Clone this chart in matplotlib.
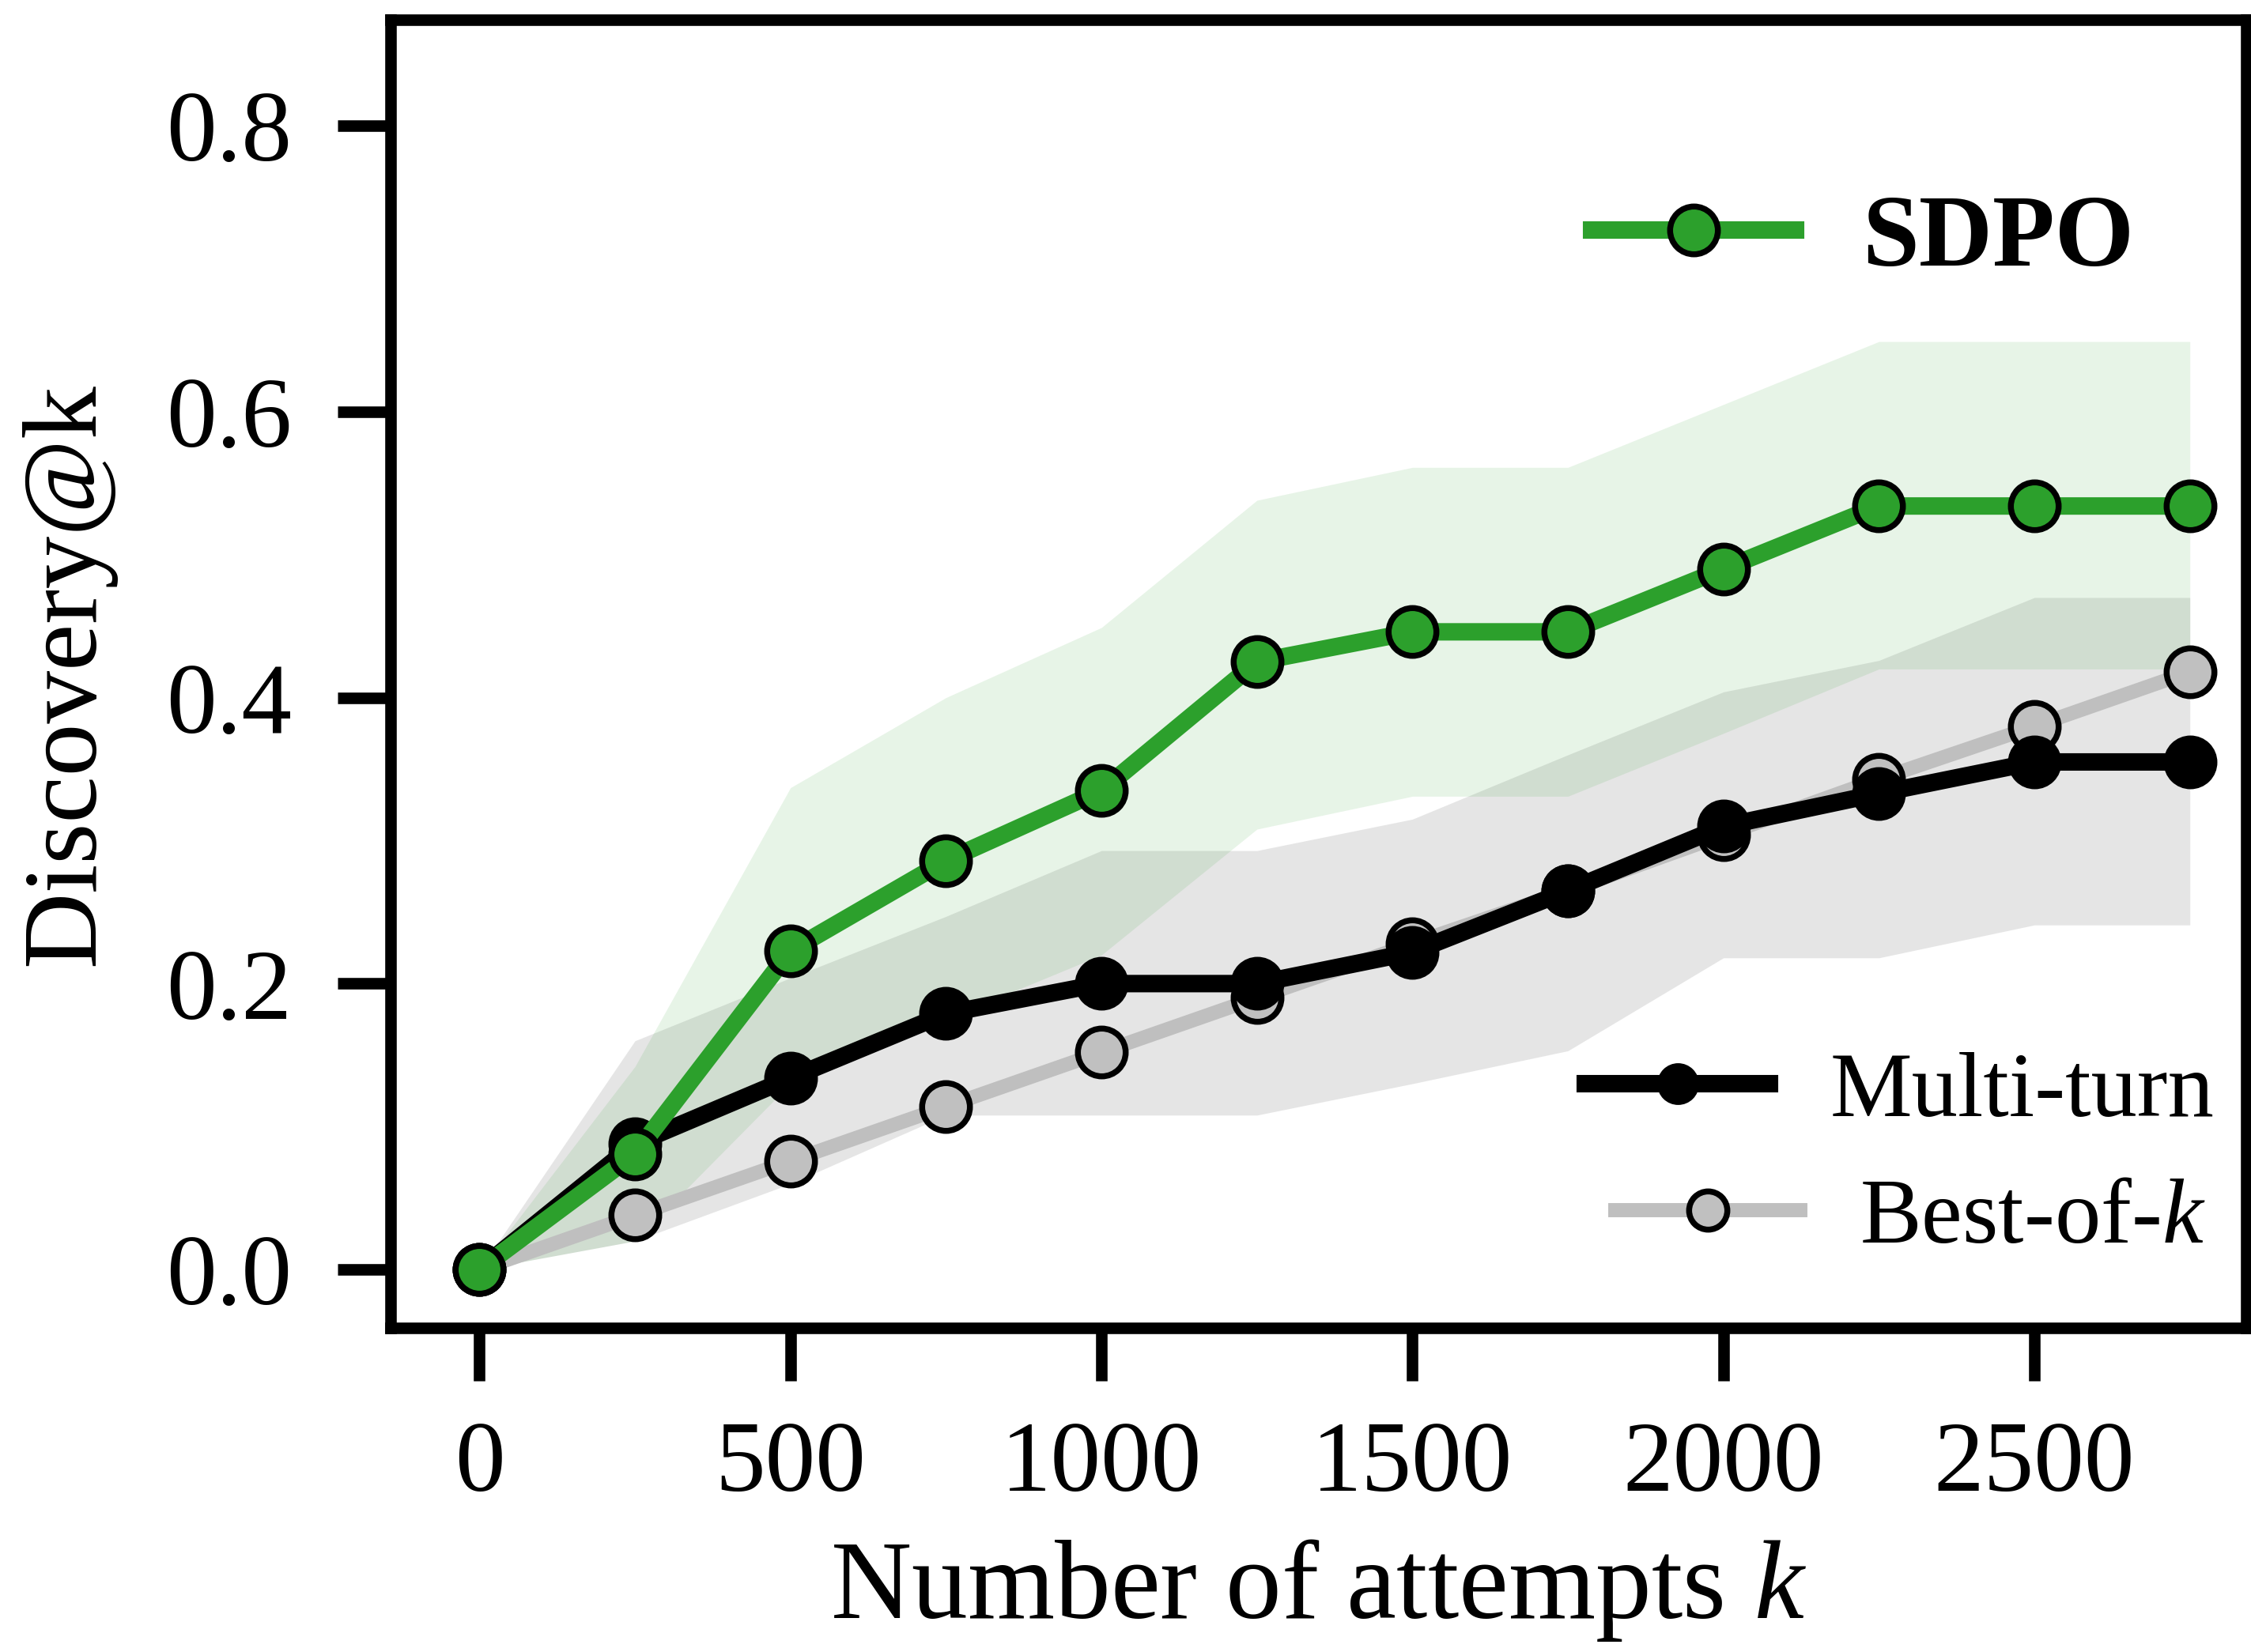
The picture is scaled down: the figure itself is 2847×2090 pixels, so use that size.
import matplotlib
matplotlib.use("Agg")
import matplotlib.pyplot as plt

plt.rcParams['font.family'] = ['Liberation Serif', 'DejaVu Serif']
plt.rcParams['mathtext.fontset'] = 'custom'
plt.rcParams['mathtext.rm'] = 'Liberation Serif'
plt.rcParams['mathtext.it'] = 'Liberation Serif:italic'

# attempts k
k = [0, 250, 500, 750, 1000, 1250, 1500, 1750, 2000, 2250, 2500, 2750]

sdpo = [0.0, 0.081, 0.223, 0.286, 0.335, 0.425, 0.446, 0.446, 0.490, 0.534, 0.534, 0.534]
sdpo_lo = [0.0, 0.02, 0.13, 0.175, 0.22, 0.308, 0.331, 0.331, 0.375, 0.42, 0.42, 0.42]
sdpo_hi = [0.0, 0.142, 0.337, 0.40, 0.449, 0.538, 0.561, 0.561, 0.605, 0.649, 0.649, 0.649]

multi = [0.0, 0.088, 0.134, 0.179, 0.200, 0.200, 0.222, 0.265, 0.310, 0.333, 0.355, 0.355]
multi_lo = [0.0, 0.02, 0.06, 0.108, 0.108, 0.108, 0.13, 0.153, 0.218, 0.218, 0.241, 0.241]
multi_hi = [0.0, 0.16, 0.204, 0.247, 0.293, 0.293, 0.315, 0.36, 0.404, 0.426, 0.47, 0.47]

bok = [0.0, 0.038, 0.076, 0.114, 0.152, 0.190, 0.228, 0.265, 0.304, 0.343, 0.380, 0.418]

green = '#2ca02c'
silver = '#bfbfbf'

fig = plt.figure(figsize=(2847 / 300, 2090 / 300), dpi=300)
ax = fig.add_axes([0.1735, 0.196, 0.8245, 0.792])

ax.fill_between(k, multi_lo, multi_hi, color='gray', alpha=0.2, lw=0, zorder=1)
ax.fill_between(k, sdpo_lo, sdpo_hi, color=green, alpha=0.11, lw=0, zorder=1)

ms, mew = 14.5, 1.8
l_bok, = ax.plot(k, bok, color=silver, lw=4.3, marker='o', ms=ms, mfc='#c0c0c0',
                 mec='black', mew=mew, zorder=3, label='Best-of-$k$')
l_multi, = ax.plot(k, multi, color='black', lw=5.3, marker='o', ms=ms, mfc='black',
                   mec='black', mew=mew, zorder=4, label='Multi-turn')
l_sdpo, = ax.plot(k, sdpo, color=green, lw=5.3, marker='o', ms=ms, mfc=green,
                  mec='black', mew=mew, zorder=5, label='SDPO')

ax.set_xlim(-143, 2841)
ax.set_ylim(-0.041, 0.874)
ax.set_xticks([0, 500, 1000, 1500, 2000, 2500])
ax.set_yticks([0.0, 0.2, 0.4, 0.6, 0.8])
ax.set_yticklabels(['0.0', '0.2', '0.4', '0.6', '0.8'])

for s in ax.spines.values():
    s.set_linewidth(3.5)
ax.tick_params(axis='both', length=16, width=3.5, labelsize=30.5)
ax.tick_params(axis='y', pad=14)
ax.tick_params(axis='x', pad=12)

ax.set_xlabel('Number of attempts $k$', fontsize=34)
ax.xaxis.set_label_coords(0.5, -0.16)
ax.set_ylabel('Discovery@k', fontsize=32)
ax.yaxis.set_label_coords(-0.148, 0.5)

common = dict(frameon=False, borderpad=0, borderaxespad=0, handlelength=2.0,
              handletextpad=0.65, bbox_transform=fig.transFigure, loc='center right')
leg1 = ax.legend(handles=[l_sdpo], bbox_to_anchor=(0.948, 0.854),
                 prop={'size': 31, 'weight': 'bold'}, **common)
ax.add_artist(leg1)
leg2 = ax.legend(handles=[l_multi], bbox_to_anchor=(0.9835, 0.338),
                 prop={'size': 28}, markerscale=0.75, **common)
ax.add_artist(leg2)
leg3 = ax.legend(handles=[l_bok], bbox_to_anchor=(0.980, 0.2616),
                 prop={'size': 28}, markerscale=0.8, **common)

fig.savefig('out.png', dpi=300)
